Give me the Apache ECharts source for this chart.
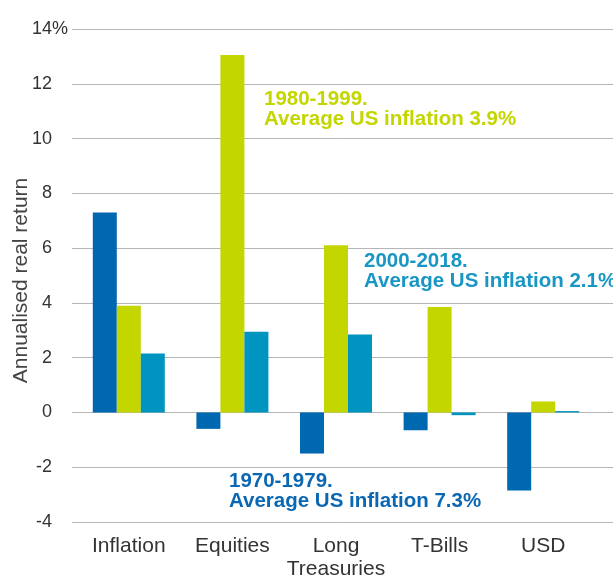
<!DOCTYPE html>
<html>
<head>
<meta charset="utf-8">
<script src="https://cdn.jsdelivr.net/npm/echarts@6/dist/echarts.min.js"></script>
<style>
	html, body { margin: 0; padding: 0; background: #fff; }
	#main { width: 613px; height: 578px; }
</style>
</head>
<body>
<div id="main"></div>
<script>
var categories = ['Inflation', 'Equities', 'Long\nTreasuries', 'T-Bills', 'USD'];
var yTicks = [-4, -2, 0, 2, 4, 6, 8, 10, 12, 14];
// annualised real return per period
var data1970 = [7.3, -0.6, -1.5, -0.65, -2.85];
var data1980 = [3.9, 13.05, 6.1, 3.85, 0.4];
var data2000 = [2.15, 2.95, 2.85, -0.1, 0.05];

var myChart = echarts.init(document.getElementById('main'));
var font = '"Liberation Sans", Arial, sans-serif';

option = {
	animation: false,
	textStyle: { fontFamily: font },
	grid: [
		{ left: 72, right: 0, top: 29, bottom: 56, outerBoundsMode: 'none' },
		{ left: 77, right: 18, top: 29, bottom: 56, outerBoundsMode: 'none' }
	],
	xAxis: [{
		gridIndex: 0,
		type: 'value',
		show: false
	}, {
		gridIndex: 1,
		type: 'category',
		data: categories,
		axisLine: { show: false },
		axisTick: { show: false },
		axisLabel: {
			interval: 0,
			color: '#333',
			fontSize: 21,
			lineHeight: 23,
			margin: 13,
			fontFamily: font
		}
	}],
	yAxis: [{
		gridIndex: 0,
		type: 'value',
		min: yTicks[0],
		max: yTicks[yTicks.length - 1],
		interval: 2,
		name: 'Annualised real return',
		nameLocation: 'middle',
		nameGap: 40,
		nameMoveOverlap: false,
		nameTextStyle: { color: '#444', fontSize: 21, fontFamily: font, padding: [0, 10, 0, 0] },
		axisLine: { show: false },
		axisTick: { show: false },
		splitLine: { lineStyle: { color: '#b5b5b5', width: 1 } },
		axisLabel: {
			margin: 4,
			formatter: function(v) {
				return v === 14 ? '{v|' + v + '}{u|%}' : '{v|' + v + '}{u| }';
			},
			rich: {
				v: { color: '#333', fontSize: 18, fontFamily: font },
				u: { color: '#333', fontSize: 18, width: 16, fontFamily: font }
			}
		}
	}, {
		gridIndex: 1,
		type: 'value',
		min: yTicks[0],
		max: yTicks[yTicks.length - 1],
		interval: 2,
		show: false
	}],
	series: [{
		name: '1970-1979',
		type: 'bar',
		xAxisIndex: 1,
		yAxisIndex: 1,
		barWidth: 24,
		barGap: '0%',
		itemStyle: { color: '#0067b1' },
		data: data1970
	}, {
		name: '1980-1999',
		type: 'bar',
		xAxisIndex: 1,
		yAxisIndex: 1,
		barWidth: 24,
		barGap: '0%',
		itemStyle: { color: '#c4d600' },
		data: data1980
	}, {
		name: '2000-2018',
		type: 'bar',
		xAxisIndex: 1,
		yAxisIndex: 1,
		barWidth: 24,
		barGap: '0%',
		itemStyle: { color: '#0094c0' },
		data: data2000
	}],
	graphic: [{
		type: 'text',
		left: 264,
		top: 89,
		style: {
			text: '1980-1999.\nAverage US inflation 3.9%',
			fill: '#c4d600',
			font: 'bold 20.5px ' + font,
			lineHeight: 20
		}
	}, {
		type: 'text',
		left: 364,
		top: 251,
		style: {
			text: '2000-2018.\nAverage US inflation 2.1%',
			fill: '#1896c4',
			font: 'bold 20.5px ' + font,
			lineHeight: 20
		}
	}, {
		type: 'text',
		left: 229,
		top: 471,
		style: {
			text: '1970-1979.\nAverage US inflation 7.3%',
			fill: '#0a67b3',
			font: 'bold 20.5px ' + font,
			lineHeight: 20
		}
	}]
};
myChart.setOption(option);
</script>
</body>
</html>
